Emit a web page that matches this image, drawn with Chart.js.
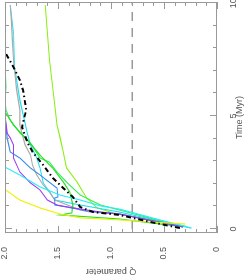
<!DOCTYPE html>
<html>
<head>
<meta charset="utf-8">
<script src="https://cdn.jsdelivr.net/npm/chart.js@4"></script>
<style>
  html, body { margin: 0; padding: 0; background: #fff; overflow: hidden; }
  /* the plot is drawn upright (time along x) and turned a quarter left */
  #wrap {
    position: absolute; left: 0; top: 0; width: 277px; height: 245px;
    transform-origin: 0 0; transform: translate(0, 277px) rotate(-90deg);
  }
</style>
</head>
<body>
<div id="wrap"><canvas id="qChart" width="277" height="245"></canvas></div>
<script>
// time (Myr) and Q parameter for every run
const blackT = [0.04, 0.31, 0.62, 0.75, 0.97, 1.42, 1.81, 2.26, 2.83, 3.41, 3.85, 4.51, 5.27, 6.15, 6.59, 7.17, 7.83];
const blackQ = [0.35, 0.63, 0.92, 1.17, 1.29, 1.36, 1.45, 1.55, 1.64, 1.74, 1.79, 1.84, 1.80, 1.83, 1.86, 1.92, 2.00];

const yellowT = [0.22, 0.31, 0.40, 0.49, 0.66, 0.93, 1.28, 1.75];
const yellowQ = [0.30, 0.63, 0.92, 1.29, 1.48, 1.67, 1.86, 2.00];

const cyanAT = [0.04, 0.40, 0.88, 1.02, 1.28, 1.50, 1.86, 2.39, 2.74];
const cyanAQ = [0.24, 0.54, 0.92, 1.10, 1.29, 1.48, 1.67, 1.86, 2.00];

const cyanBT = [0.04, 0.75, 1.06, 1.28, 1.64, 2.04, 2.70, 3.14, 3.72, 4.25, 5.70, 7.17, 8.67, 9.91];
const cyanBQ = [0.25, 0.92, 1.29, 1.53, 1.58, 1.64, 1.67, 1.70, 1.76, 1.79, 1.86, 1.91, 1.92, 1.95];

const grayT = [0.09, 0.66, 0.75, 0.84, 1.28, 1.64, 1.95, 2.39, 2.83, 3.27, 3.72, 4.60, 5.27, 6.15, 7.48, 8.36, 9.25, 9.91];
const grayQ = [0.32, 0.92, 1.20, 1.29, 1.53, 1.58, 1.64, 1.70, 1.74, 1.76, 1.81, 1.86, 1.86, 1.89, 1.92, 1.93, 1.94, 1.95];

const purpleT = [0.09, 0.66, 0.75, 0.93, 1.06, 1.28, 1.73, 2.04, 2.52, 3.14, 3.72, 4.03, 4.25, 5.04, 5.80];
const purpleQ = [0.32, 0.92, 1.10, 1.36, 1.51, 1.60, 1.67, 1.76, 1.86, 1.92, 1.92, 1.95, 1.98, 2.00, 2.00];

const blueT = [0.09, 0.66, 0.80, 0.97, 1.06, 1.37, 1.42, 1.81, 2.39, 2.70, 3.14, 3.41, 4.03, 4.96];
const blueQ = [0.32, 0.92, 1.23, 1.42, 1.53, 1.53, 1.50, 1.51, 1.67, 1.76, 1.86, 1.95, 1.98, 2.00];

const greenAT = [0.09, 0.44, 0.62, 0.71, 1.06, 1.64, 2.08, 2.70, 3.27, 3.94, 4.60, 5.18];
const greenAQ = [0.32, 0.92, 1.48, 1.37, 1.36, 1.39, 1.45, 1.55, 1.67, 1.79, 1.92, 2.00];

const greenBT = [0.09, 0.84, 1.06, 1.50, 2.08, 2.52, 2.96, 3.14, 3.81, 4.25, 4.82, 5.27, 5.71, 6.28, 7.35];
const greenBQ = [0.32, 0.92, 1.10, 1.29, 1.42, 1.51, 1.58, 1.67, 1.76, 1.86, 1.95, 1.99, 2.00, 1.99, 2.00];

const limeT = [0.13, 0.71, 0.93, 1.37, 2.08, 2.70, 3.41, 4.03, 4.60, 5.49, 7.48, 9.91];
const limeQ = [0.30, 0.98, 1.13, 1.23, 1.32, 1.42, 1.45, 1.48, 1.51, 1.53, 1.58, 1.62];

// dashed reference level
const refT = [0, 10];
const refQ = [0.8, 0.8];

// axis ticks
const timeLabels = [0, 5, 10];
const timeTicks = [0, 1, 2, 3, 4, 5, 6, 7, 8, 9, 10];
const qLabels = [0, 0.5, 1, 1.5, 2];
const qTicks = [0, 0.1, 0.2, 0.3, 0.4, 0.5, 0.6, 0.7, 0.8, 0.9, 1, 1.1, 1.2, 1.3, 1.4, 1.5, 1.6, 1.7, 1.8, 1.9, 2];

function pts(ts, qs) {
  return ts.map((t, i) => ({ x: t, y: qs[i] }));
}

function run(ts, qs, color, extra) {
  return Object.assign({
    data: pts(ts, qs),
    borderColor: color,
    borderWidth: 1.1,
    showLine: true,
    pointRadius: 0,
    tension: 0
  }, extra || {});
}

// inward ticks on all four sides, like the original plot
const frameTicks = {
  id: 'frameTicks',
  afterDatasetsDraw(chart) {
    const { ctx, chartArea: a, scales: { x, y } } = chart;
    ctx.save();
    ctx.strokeStyle = '#999';
    ctx.lineWidth = 1;
    ctx.strokeRect(a.left + 0.5, a.top + 0.5, a.right - a.left - 1, a.bottom - a.top - 1);
    ctx.beginPath();
    timeTicks.forEach(t => {
      const px = Math.round(x.getPixelForValue(t)) + 0.5;
      const len = timeLabels.includes(t) ? 7 : 4;
      ctx.moveTo(px, a.bottom); ctx.lineTo(px, a.bottom - len);
      ctx.moveTo(px, a.top); ctx.lineTo(px, a.top + len);
    });
    qTicks.forEach(q => {
      const py = Math.round(y.getPixelForValue(q)) + 0.5;
      const len = qLabels.includes(q) ? 7 : 4;
      ctx.moveTo(a.left, py); ctx.lineTo(a.left + len, py);
      ctx.moveTo(a.right, py); ctx.lineTo(a.right - len, py);
    });
    ctx.stroke();
    ctx.restore();
  }
};

const font = { family: 'Liberation Sans', size: 9 };

new Chart(document.getElementById('qChart').getContext('2d'), {
  type: 'scatter',
  data: {
    datasets: [
      run(blackT, blackQ, '#000', { borderWidth: 2, borderDash: [5, 3, 1.5, 3] }),
      run(yellowT, yellowQ, '#f0f000'),
      run(cyanAT, cyanAQ, '#22eeff'),
      run(purpleT, purpleQ, '#9a3cf0'),
      run(blueT, blueQ, '#3c8cf0'),
      run(greenAT, greenAQ, '#22dd22'),
      run(greenBT, greenBQ, '#33ee55'),
      run(grayT, grayQ, '#aaaaaa'),
      run(cyanBT, cyanBQ, '#22ddee'),
      run(limeT, limeQ, '#88ee11'),
      run(refT, refQ, '#999', { borderWidth: 1.5, borderDash: [9, 7] })
    ]
  },
  options: {
    responsive: false,
    animation: false,
    events: [],
    layout: { padding: { top: 5, right: 2, left: 0, bottom: 0 } },
    plugins: { legend: { display: false }, tooltip: { enabled: false } },
    scales: {
      x: {
        type: 'linear',
        min: -0.18,
        max: 10.05,
        grid: { display: false },
        border: { display: false },
        afterBuildTicks: s => { s.ticks = timeLabels.map(v => ({ value: v })); },
        afterFit: s => { s.height = 28; s.paddingLeft = 0; s.paddingRight = 0; },
        ticks: { font, color: '#555', padding: 3, maxRotation: 0 },
        title: { display: true, text: 'Time (Myr)', font, color: '#555', padding: 0 }
      },
      y: {
        type: 'linear',
        min: 0,
        max: 2,
        grid: { display: false },
        border: { display: false },
        afterBuildTicks: s => { s.ticks = qLabels.map(v => ({ value: v })); },
        afterFit: s => { s.width = 44; s.paddingTop = 0; s.paddingBottom = 0; },
        ticks: { font, color: '#555', padding: 6 },
        title: { display: true, text: 'Q parameter', font, color: '#555', padding: 0 }
      }
    }
  },
  plugins: [frameTicks]
});
</script>
</body>
</html>
